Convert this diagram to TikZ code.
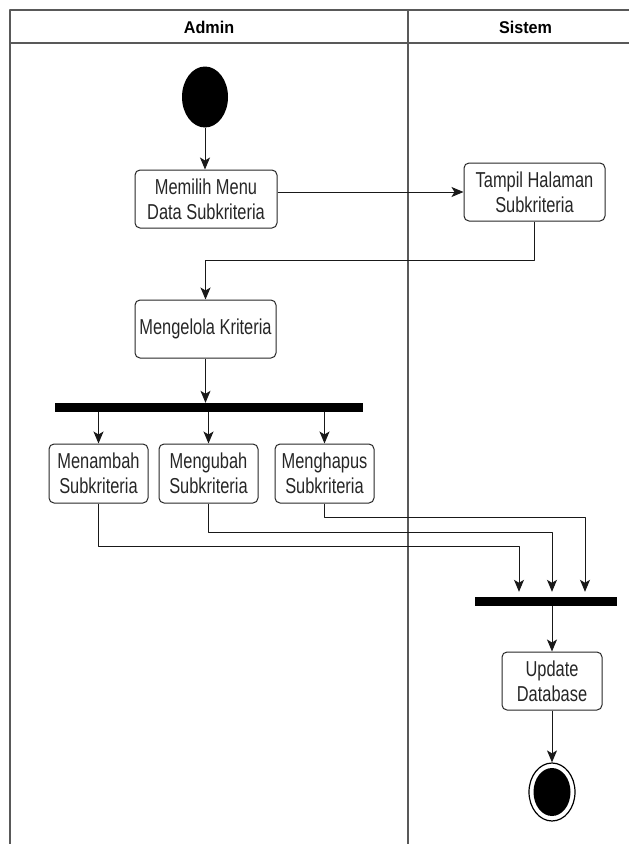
\documentclass[tikz,border=0pt]{standalone}
\usepackage{fontspec}
\setmainfont{Liberation Sans}
\newfontfamily\actfont[FakeStretch=0.76]{Liberation Sans}
\newfontfamily\lanefont[FakeStretch=0.95]{Liberation Sans}
\usetikzlibrary{shapes.geometric,arrows.meta}
\begin{document}
\begin{tikzpicture}[x=1pt,y=-1pt,line join=round,
>={Stealth[length=12pt,width=10pt,inset=3pt]},
act/.style={draw=black!85,line width=1pt,rounded corners=5pt,align=center,inner sep=0pt,minimum height=58pt,text=black!85,font=\actfont\fontsize{21.6}{25}\selectfont},
bar/.style={fill=black,inner sep=0pt,minimum height=9pt},
lane/.style={draw=black!65,line width=1.5pt},
flow/.style={->,line width=1pt,black!90}]
\useasboundingbox (0,0) rectangle (629,844);
\draw[lane] (10,850) |- (640,10) (10,43)--(640,43) (408,10)--(408,850);
\node[font=\lanefont\bfseries\fontsize{17}{20}\selectfont] (admin) at (209,27.5) {Admin};
\node[font=\lanefont\bfseries\fontsize{17}{20}\selectfont] (sistem) at (525.5,27.5) {Sistem};
\node[ellipse,fill=black,inner sep=0pt,minimum width=46pt,minimum height=61pt] (start) at (205,97) {};
\node[act,minimum width=142pt] (pilih) at (206,199) {Memilih Menu\\Data Subkriteria};
\node[act,minimum width=141pt] (tampil) at (534.5,192) {Tampil Halaman\\Subkriteria};
\node[act,minimum width=141pt] (kelola) at (205.5,329) {Mengelola Kriteria};
\node[bar,minimum width=308pt] (fork) at (209,407.5) {};
\node[act,minimum width=99pt,minimum height=59pt] (tambah) at (98.5,473.5) {Menambah\\Subkriteria};
\node[act,minimum width=99pt,minimum height=59pt] (ubah) at (208.5,473.5) {Mengubah\\Subkriteria};
\node[act,minimum width=99pt,minimum height=59pt] (hapus) at (324.5,473.5) {Menghapus\\Subkriteria};
\node[bar,minimum width=142pt] (join) at (546,601.5) {};
\node[act,minimum width=100pt] (update) at (552,681) {Update\\Database};
\node[ellipse,draw=black,line width=1.2pt,inner sep=0pt,minimum width=46pt,minimum height=58pt] (end) at (552,792) {};
\node[ellipse,fill=black,inner sep=0pt,minimum width=37pt,minimum height=48pt] (endin) at (end) {};
\draw[flow] (start)--(start|-pilih.north);
\draw[flow] (pilih.east|-tampil.west)--(tampil.west);
\draw[flow] (tampil.south)--++(0,39)-|(kelola.north);
\draw[flow] (kelola.south)--(kelola.south|-fork.north);
\draw[flow] (tambah.north|-fork.south)--(tambah.north);
\draw[flow] (ubah.north|-fork.south)--(ubah.north);
\draw[flow] (hapus.north|-fork.south)--(hapus.north);
\draw[flow,shorten >=5pt] (tambah.south)--++(0,43)-|([xshift=-27pt]join.north);
\draw[flow,shorten >=5pt] (ubah.south)--++(0,29)-|([xshift=6pt]join.north);
\draw[flow,shorten >=5pt] (hapus.south)--++(0,14)-|([xshift=39pt]join.north);
\draw[flow] (update.north|-join.south)--(update.north);
\draw[flow] (update.south)--(end.north);
\end{tikzpicture}
\end{document}
